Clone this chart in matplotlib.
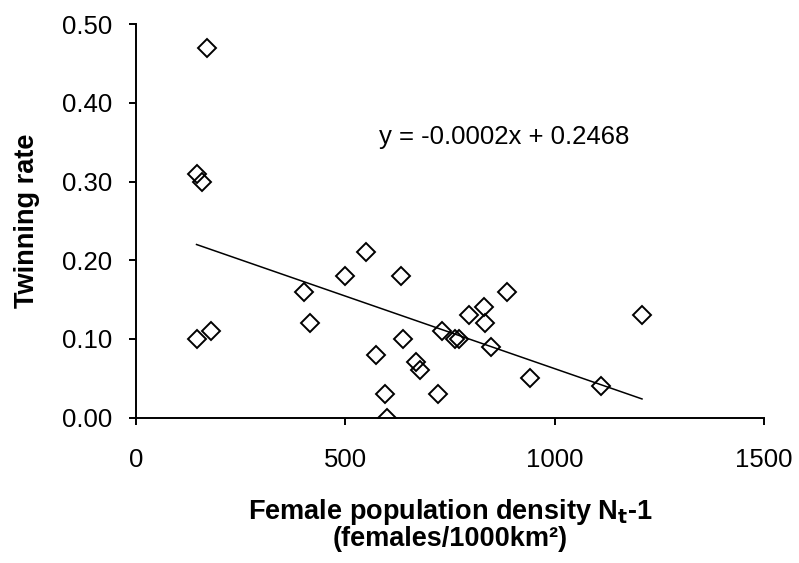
import numpy as np
import matplotlib
matplotlib.use("Agg")
import matplotlib.pyplot as plt

plt.rcParams['font.family'] = ['Liberation Sans', 'DejaVu Sans']

# Data
density = [170, 145, 157, 147, 179, 401, 415, 500, 549, 574, 596, 600, 634, 638,
           670, 678, 721, 732, 763, 772, 795, 831, 834, 849, 886, 942, 1111, 1209]
twinning = [0.47, 0.31, 0.30, 0.10, 0.11, 0.16, 0.12, 0.18, 0.21, 0.08, 0.03, 0.00, 0.18, 0.10,
            0.07, 0.06, 0.03, 0.11, 0.10, 0.10, 0.13, 0.14, 0.12, 0.09, 0.16, 0.05, 0.04, 0.13]
x_ticks = [0, 500, 1000, 1500]
y_ticks = [0.0, 0.1, 0.2, 0.3, 0.4, 0.5]
equation = "y = -0.0002x + 0.2468"

x = np.array(density, dtype=float)
y = np.array(twinning, dtype=float)

fig = plt.figure(figsize=(7.99, 5.63), dpi=100)
ax = fig.add_axes([0.170, 0.2584, 0.786, 0.6984])

ax.plot(x, y, linestyle='none', marker='D', markersize=9, markerfacecolor='none',
        markeredgecolor='black', markeredgewidth=1.4, zorder=3)

slope, intercept = np.polyfit(x, y, 1)
xl = np.array([x.min(), x.max()])
ax.plot(xl, slope * xl + intercept, color='black', linewidth=1.1, zorder=2)

ax.text(582, 0.348, equation, fontsize=18.5, ha='left', va='baseline')

ax.set_xlim(0, 1500)
ax.set_ylim(0, 0.5)
ax.set_xticks(x_ticks)
ax.set_xticklabels([str(t) for t in x_ticks])
ax.set_yticks(y_ticks)
ax.set_yticklabels([f"{t:.2f}" for t in y_ticks])

for s in ['top', 'right']:
    ax.spines[s].set_visible(False)
for s in ['left', 'bottom']:
    ax.spines[s].set_linewidth(1.4)
ax.tick_params(axis='both', direction='out', length=5, width=1.4, labelsize=18.5)
ax.tick_params(axis='x', pad=17)
ax.tick_params(axis='y', pad=12)

ax.set_ylabel("Twinning rate", fontsize=19.5, fontweight='bold', labelpad=16)
xlabel = "Female population density N$_\\mathbf{t}$-1\n(females/1000km\u00b2)"
fig.text(0.5635, 1 - 497 / 563, xlabel, fontsize=19.5, fontweight='bold',
         ha='center', va='top', multialignment='center', linespacing=0.95)

fig.savefig("out.png", dpi=100)
